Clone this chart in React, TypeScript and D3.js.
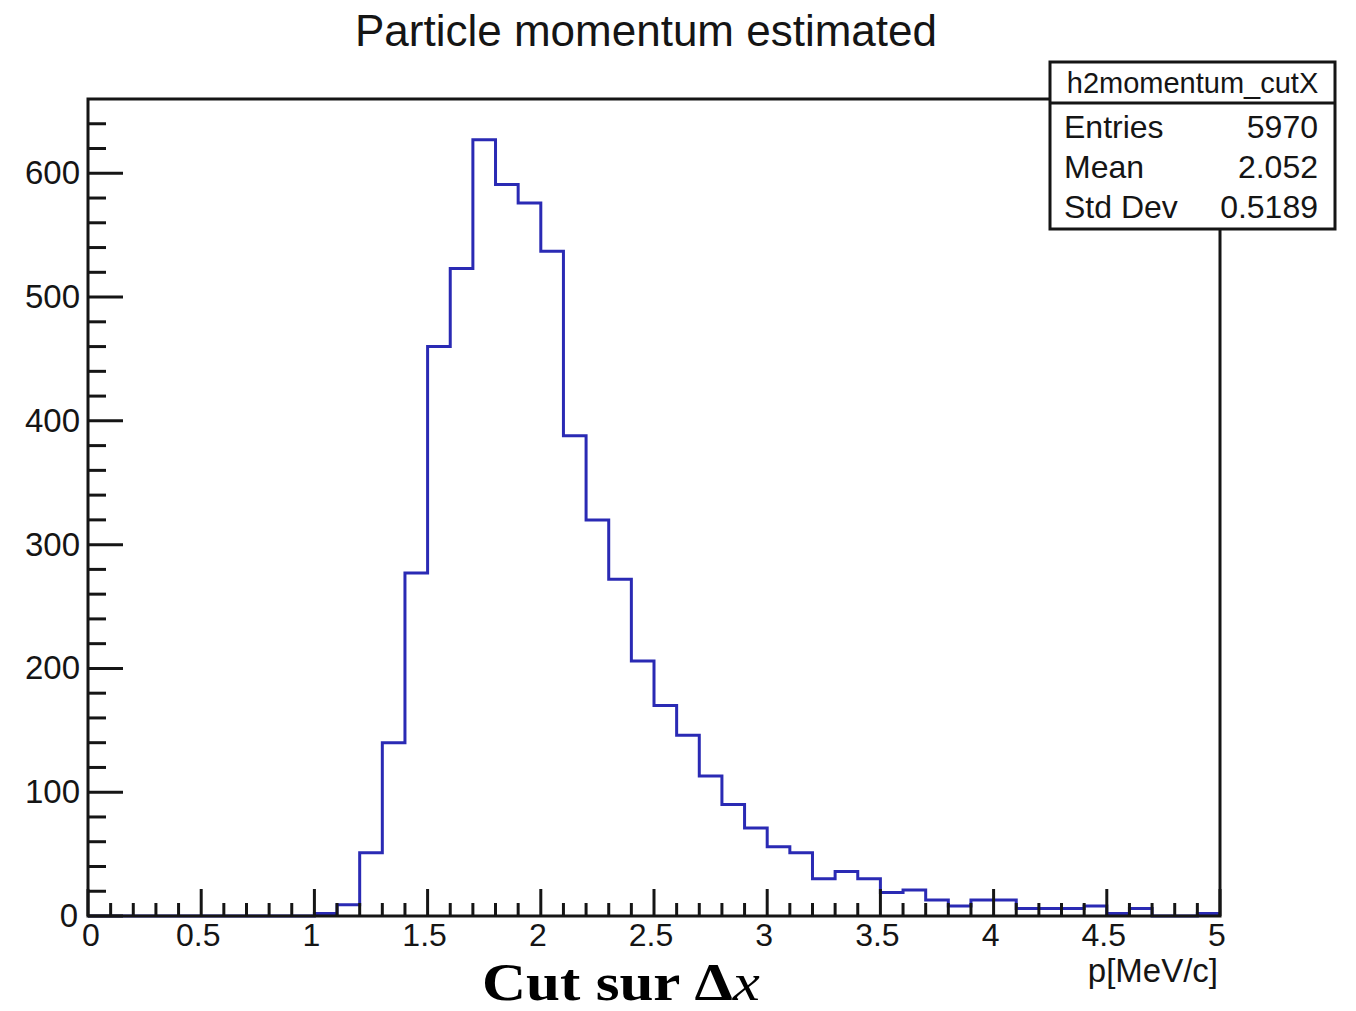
import React from "react";
import * as d3 from "d3";

const title = "Particle momentum estimated";
const histName = "h2momentum_cutX";
const statLabels = ["Entries", "Mean", "Std Dev"];
const statValues = ["5970", "2.052", "0.5189"];
const xAxisTitle = "p[MeV/c]";
const captionMain = "Cut sur ";
const captionDelta = "Δ";
const captionVar = "x";

const xMin = 0;
const xMax = 5;
const yMax = 660;
const binWidth = 0.1;
// counts per bin of 0.1 from 0 to 5
const counts = [
  0, 0, 0, 0, 0, 0, 0, 0, 0, 0,
  2, 9, 51, 140, 277, 460, 523, 627, 591, 576,
  537, 388, 320, 272, 206, 170, 146, 113, 90, 71,
  56, 51, 30, 36, 30, 19, 21, 13, 8, 13,
  13, 6, 6, 6, 8, 2, 6, 0, 0, 2,
];
const xMajorTicks = [0, 0.5, 1, 1.5, 2, 2.5, 3, 3.5, 4, 4.5, 5];
const xTickLabels = ["0", "0.5", "1", "1.5", "2", "2.5", "3", "3.5", "4", "4.5", "5"];
const yMajorTicks = [0, 100, 200, 300, 400, 500, 600];
const yTickLabels = ["0", "100", "200", "300", "400", "500", "600"];

const W = 1356;
const H = 1011;
const L = 88, R = 1220, T = 99, B = 916;
const font = "'Liberation Sans', Arial, Helvetica, sans-serif";
const ink = "#151515";
const lineBlue = "#2a2ab4";

export default function App() {
  const x = d3.scaleLinear().domain([xMin, xMax]).range([L, R]);
  const y = d3.scaleLinear().domain([0, yMax]).range([B, T]);

  const pts: [number, number][] = [];
  counts.forEach((c, i) => {
    const x0 = xMin + i * binWidth;
    pts.push([x0, c]);
    pts.push([x0 + binWidth, c]);
  });
  const line = d3.line<[number, number]>().x((d) => x(d[0])).y((d) => y(d[1]));
  const histPath = line(pts) || "";

  const xMinor = d3.range(0, 51).map((i) => i * 0.1).filter((v) => Math.abs(v * 2 - Math.round(v * 2)) > 1e-6);
  const yMinor = d3.range(0, 33).map((i) => i * 20).filter((v) => v % 100 !== 0);

  const boxL = 1050, boxR = 1335, boxT = 62, boxB = 229, boxHead = 103;

  return (
    <svg width={W} height={H} style={{ position: "absolute", left: 0, top: 0, background: "#fff" }}>
      <rect x={0} y={0} width={W} height={H} fill="#fff" />
      <text x={646} y={46} textAnchor="middle" fontFamily={font} fontSize={44} fill={ink}>{title}</text>

      <path d={histPath} fill="none" stroke={lineBlue} strokeWidth={3} />

      {/* frame */}
      <rect x={L} y={T} width={R - L} height={B - T} fill="none" stroke={ink} strokeWidth={3} />

      {/* x ticks */}
      {xMajorTicks.map((v) => (
        <line key={"xM" + v} x1={x(v)} x2={x(v)} y1={B} y2={B - 27} stroke={ink} strokeWidth={3} />
      ))}
      {xMinor.map((v) => (
        <line key={"xm" + v} x1={x(v)} x2={x(v)} y1={B} y2={B - 13} stroke={ink} strokeWidth={3} />
      ))}
      {xMajorTicks.map((v, i) => (
        <text key={"xl" + v} x={x(v) + (i === 0 ? 3 : -3)} y={946} textAnchor="middle" fontFamily={font} fontSize={32} fill={ink}>{xTickLabels[i]}</text>
      ))}

      {/* y ticks */}
      {yMajorTicks.map((v) => (
        <line key={"yM" + v} x1={L} x2={L + 35} y1={y(v)} y2={y(v)} stroke={ink} strokeWidth={3} />
      ))}
      {yMinor.map((v) => (
        <line key={"ym" + v} x1={L} x2={L + 18} y1={y(v)} y2={y(v)} stroke={ink} strokeWidth={3} />
      ))}
      {yMajorTicks.map((v, i) => (
        <text key={"yl" + v} x={i === 0 ? 78 : 80} y={y(v) + 11} textAnchor="end" fontFamily={font} fontSize={33} fill={ink}>{yTickLabels[i]}</text>
      ))}

      <text x={1218} y={982} textAnchor="end" fontFamily={font} fontSize={33} fill={ink}>{xAxisTitle}</text>

      {/* stats box */}
      <rect x={boxL} y={boxT} width={boxR - boxL} height={boxB - boxT} fill="#fff" stroke={ink} strokeWidth={3} />
      <line x1={boxL} x2={boxR} y1={boxHead} y2={boxHead} stroke={ink} strokeWidth={3} />
      <text x={(boxL + boxR) / 2} y={93} textAnchor="middle" fontFamily={font} fontSize={29} fill={ink}>{histName}</text>
      {statLabels.map((s, i) => (
        <g key={s}>
          <text x={1064} y={138 + i * 40} fontFamily={font} fontSize={32} fill={ink}>{s}</text>
          <text x={1318} y={138 + i * 40} textAnchor="end" fontFamily={font} fontSize={32} fill={ink}>{statValues[i]}</text>
        </g>
      ))}

      <text x={482} y={1000} fontFamily="'Liberation Serif', 'Times New Roman', serif" fontSize={52} fill="#000"
        textLength={278} lengthAdjust="spacingAndGlyphs">
        <tspan fontWeight="bold">{captionMain}{captionDelta}</tspan>
        <tspan fontStyle="italic">{captionVar}</tspan>
      </text>
    </svg>
  );
}
